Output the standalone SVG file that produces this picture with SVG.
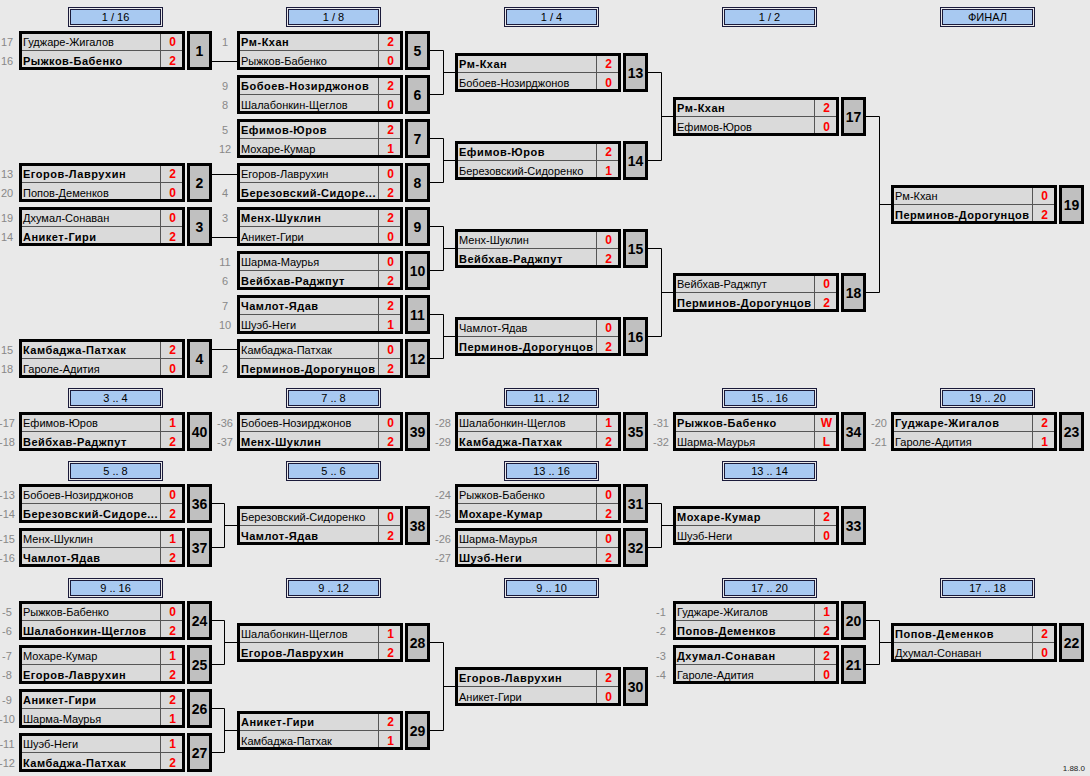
<svg xmlns="http://www.w3.org/2000/svg" width="1090" height="776" viewBox="0 0 1090 776">
<style>
text{font-family:"Liberation Sans",Arial,sans-serif;}
.bg{fill:#e9e9e9}
.box{fill:#dadada;stroke:#000;stroke-width:3}
.div{stroke:#555;stroke-width:1}
.num{fill:#c0c0c0;stroke:#000;stroke-width:3}
.nm{font-size:11px;fill:#000}
.b{font-weight:bold;letter-spacing:0.5px}
.sc{font-size:12px;font-weight:bold;fill:#f00;text-anchor:middle}
.nt{font-size:14px;font-weight:bold;fill:#000;text-anchor:middle}
.sd{font-size:11px;fill:#888;text-anchor:middle}
.ho{fill:#e9e9e9;stroke:#1a1a3a;stroke-width:1}
.hi{fill:#a8c9f1;stroke:#1a1a3a;stroke-width:1}
.ht{font-size:11px;fill:#000;text-anchor:middle}
.cn{fill:none;stroke:#000;stroke-width:1}
</style>
<defs>
<g id="frame">
<rect class="box" x="1.5" y="1.5" width="163" height="36"/>
<line class="div" x1="3" y1="19.5" x2="163" y2="19.5"/>
<line class="div" x1="141.5" y1="3" x2="141.5" y2="36"/>
<rect class="num" x="169.5" y="1.5" width="22" height="36"/>
</g>
<g id="hdr">
<rect class="ho" x="0.5" y="0.5" width="94" height="19"/>
<rect class="hi" x="2.5" y="2.5" width="90" height="15"/>
</g>
</defs>
<rect class="bg" x="0" y="0" width="1090" height="776"/>

<g id="headers">
<g id="h1"><use href="#hdr" x="68" y="7"/><text class="ht" x="115.5" y="21">1 / 16</text></g>
<g id="h2"><use href="#hdr" x="286" y="7"/><text class="ht" x="333.5" y="21">1 / 8</text></g>
<g id="h3"><use href="#hdr" x="504" y="7"/><text class="ht" x="551.5" y="21">1 / 4</text></g>
<g id="h4"><use href="#hdr" x="722" y="7"/><text class="ht" x="769.5" y="21">1 / 2</text></g>
<g id="h5"><use href="#hdr" x="940" y="7"/><text class="ht" x="987.5" y="21">ФИНАЛ</text></g>
<g id="h6"><use href="#hdr" x="68" y="388"/><text class="ht" x="115.5" y="402">3 .. 4</text></g>
<g id="h7"><use href="#hdr" x="286" y="388"/><text class="ht" x="333.5" y="402">7 .. 8</text></g>
<g id="h8"><use href="#hdr" x="504" y="388"/><text class="ht" x="551.5" y="402">11 .. 12</text></g>
<g id="h9"><use href="#hdr" x="722" y="388"/><text class="ht" x="769.5" y="402">15 .. 16</text></g>
<g id="h10"><use href="#hdr" x="940" y="388"/><text class="ht" x="987.5" y="402">19 .. 20</text></g>
<g id="h11"><use href="#hdr" x="68" y="461"/><text class="ht" x="115.5" y="475">5 .. 8</text></g>
<g id="h12"><use href="#hdr" x="286" y="461"/><text class="ht" x="333.5" y="475">5 .. 6</text></g>
<g id="h13"><use href="#hdr" x="504" y="461"/><text class="ht" x="551.5" y="475">13 .. 16</text></g>
<g id="h14"><use href="#hdr" x="722" y="461"/><text class="ht" x="769.5" y="475">13 .. 14</text></g>
<g id="h15"><use href="#hdr" x="68" y="578"/><text class="ht" x="115.5" y="592">9 .. 16</text></g>
<g id="h16"><use href="#hdr" x="286" y="578"/><text class="ht" x="333.5" y="592">9 .. 12</text></g>
<g id="h17"><use href="#hdr" x="504" y="578"/><text class="ht" x="551.5" y="592">9 .. 10</text></g>
<g id="h18"><use href="#hdr" x="722" y="578"/><text class="ht" x="769.5" y="592">17 .. 20</text></g>
<g id="h19"><use href="#hdr" x="940" y="578"/><text class="ht" x="987.5" y="592">17 .. 18</text></g>
</g>

<g id="connectors" class="cn">
<path d="M212,61.5H237M212,174.5H237M212,237.5H237M212,349.5H237"/>
<path d="M212,503.5H224.5V547.5H212M224.5,525.5H237"/>
<path d="M212,620.5H224.5V664.5H212M224.5,642.5H237"/>
<path d="M212,708.5H224.5V752.5H212M224.5,730.5H237"/>
<path d="M430,50.5H443.5V94.5H430M443.5,72.5H455"/>
<path d="M430,138.5H443.5V182.5H430M443.5,160.5H455"/>
<path d="M430,226.5H443.5V270.5H430M443.5,248.5H455"/>
<path d="M430,314.5H443.5V358.5H430M443.5,336.5H455"/>
<path d="M430,642.5H443.5V730.5H430M443.5,686.5H455"/>
<path d="M648,72.5H661.5V160.5H648M661.5,116.5H673"/>
<path d="M648,248.5H661.5V336.5H648M661.5,292.5H673"/>
<path d="M648,503.5H661.5V547.5H648M661.5,525.5H673"/>
<path d="M866,116.5H879.5V292.5H866M879.5,204.5H891"/>
<path d="M866,620.5H879.5V664.5H866M879.5,642.5H891"/>
</g>

<g id="m1" transform="translate(19,31)"><use href="#frame"/><text class="sd" x="-12" y="15">17</text><text class="sd" x="-12" y="34">16</text><text class="nm" x="4" y="15">Гуджаре-Жигалов</text><text class="nm b" x="4" y="34">Рыжков-Бабенко</text><text class="sc" x="153.5" y="15">0</text><text class="sc" x="153.5" y="34">2</text><text class="nt" x="180.5" y="25">1</text></g>
<g id="m2" transform="translate(19,163)"><use href="#frame"/><text class="sd" x="-12" y="15">13</text><text class="sd" x="-12" y="34">20</text><text class="nm b" x="4" y="15">Егоров-Лаврухин</text><text class="nm" x="4" y="34">Попов-Деменков</text><text class="sc" x="153.5" y="15">2</text><text class="sc" x="153.5" y="34">0</text><text class="nt" x="180.5" y="25">2</text></g>
<g id="m3" transform="translate(19,207)"><use href="#frame"/><text class="sd" x="-12" y="15">19</text><text class="sd" x="-12" y="34">14</text><text class="nm" x="4" y="15">Дхумал-Сонаван</text><text class="nm b" x="4" y="34">Аникет-Гири</text><text class="sc" x="153.5" y="15">0</text><text class="sc" x="153.5" y="34">2</text><text class="nt" x="180.5" y="25">3</text></g>
<g id="m4" transform="translate(19,339)"><use href="#frame"/><text class="sd" x="-12" y="15">15</text><text class="sd" x="-12" y="34">18</text><text class="nm b" x="4" y="15">Камбаджа-Патхак</text><text class="nm" x="4" y="34">Гароле-Адития</text><text class="sc" x="153.5" y="15">2</text><text class="sc" x="153.5" y="34">0</text><text class="nt" x="180.5" y="25">4</text></g>
<g id="m5" transform="translate(237,31)"><use href="#frame"/><text class="sd" x="-12" y="15">1</text><text class="nm b" x="4" y="15">Рм-Кхан</text><text class="nm" x="4" y="34">Рыжков-Бабенко</text><text class="sc" x="153.5" y="15">2</text><text class="sc" x="153.5" y="34">0</text><text class="nt" x="180.5" y="25">5</text></g>
<g id="m6" transform="translate(237,75)"><use href="#frame"/><text class="sd" x="-12" y="15">9</text><text class="sd" x="-12" y="34">8</text><text class="nm b" x="4" y="15">Бобоев-Нозирджонов</text><text class="nm" x="4" y="34">Шалабонкин-Щеглов</text><text class="sc" x="153.5" y="15">2</text><text class="sc" x="153.5" y="34">0</text><text class="nt" x="180.5" y="25">6</text></g>
<g id="m7" transform="translate(237,119)"><use href="#frame"/><text class="sd" x="-12" y="15">5</text><text class="sd" x="-12" y="34">12</text><text class="nm b" x="4" y="15">Ефимов-Юров</text><text class="nm" x="4" y="34">Мохаре-Кумар</text><text class="sc" x="153.5" y="15">2</text><text class="sc" x="153.5" y="34">1</text><text class="nt" x="180.5" y="25">7</text></g>
<g id="m8" transform="translate(237,163)"><use href="#frame"/><text class="sd" x="-12" y="34">4</text><text class="nm" x="4" y="15">Егоров-Лаврухин</text><text class="nm b" x="4" y="34">Березовский-Сидоре...</text><text class="sc" x="153.5" y="15">0</text><text class="sc" x="153.5" y="34">2</text><text class="nt" x="180.5" y="25">8</text></g>
<g id="m9" transform="translate(237,207)"><use href="#frame"/><text class="sd" x="-12" y="15">3</text><text class="nm b" x="4" y="15">Менх-Шуклин</text><text class="nm" x="4" y="34">Аникет-Гири</text><text class="sc" x="153.5" y="15">2</text><text class="sc" x="153.5" y="34">0</text><text class="nt" x="180.5" y="25">9</text></g>
<g id="m10" transform="translate(237,251)"><use href="#frame"/><text class="sd" x="-12" y="15">11</text><text class="sd" x="-12" y="34">6</text><text class="nm" x="4" y="15">Шарма-Маурья</text><text class="nm b" x="4" y="34">Вейбхав-Раджпут</text><text class="sc" x="153.5" y="15">0</text><text class="sc" x="153.5" y="34">2</text><text class="nt" x="180.5" y="25">10</text></g>
<g id="m11" transform="translate(237,295)"><use href="#frame"/><text class="sd" x="-12" y="15">7</text><text class="sd" x="-12" y="34">10</text><text class="nm b" x="4" y="15">Чамлот-Ядав</text><text class="nm" x="4" y="34">Шуэб-Неги</text><text class="sc" x="153.5" y="15">2</text><text class="sc" x="153.5" y="34">1</text><text class="nt" x="180.5" y="25">11</text></g>
<g id="m12" transform="translate(237,339)"><use href="#frame"/><text class="sd" x="-12" y="34">2</text><text class="nm" x="4" y="15">Камбаджа-Патхак</text><text class="nm b" x="4" y="34">Перминов-Дорогунцов</text><text class="sc" x="153.5" y="15">0</text><text class="sc" x="153.5" y="34">2</text><text class="nt" x="180.5" y="25">12</text></g>
<g id="m13" transform="translate(455,53)"><use href="#frame"/><text class="nm b" x="4" y="15">Рм-Кхан</text><text class="nm" x="4" y="34">Бобоев-Нозирджонов</text><text class="sc" x="153.5" y="15">2</text><text class="sc" x="153.5" y="34">0</text><text class="nt" x="180.5" y="25">13</text></g>
<g id="m14" transform="translate(455,141)"><use href="#frame"/><text class="nm b" x="4" y="15">Ефимов-Юров</text><text class="nm" x="4" y="34">Березовский-Сидоренко</text><text class="sc" x="153.5" y="15">2</text><text class="sc" x="153.5" y="34">1</text><text class="nt" x="180.5" y="25">14</text></g>
<g id="m15" transform="translate(455,229)"><use href="#frame"/><text class="nm" x="4" y="15">Менх-Шуклин</text><text class="nm b" x="4" y="34">Вейбхав-Раджпут</text><text class="sc" x="153.5" y="15">0</text><text class="sc" x="153.5" y="34">2</text><text class="nt" x="180.5" y="25">15</text></g>
<g id="m16" transform="translate(455,317)"><use href="#frame"/><text class="nm" x="4" y="15">Чамлот-Ядав</text><text class="nm b" x="4" y="34">Перминов-Дорогунцов</text><text class="sc" x="153.5" y="15">0</text><text class="sc" x="153.5" y="34">2</text><text class="nt" x="180.5" y="25">16</text></g>
<g id="m17" transform="translate(673,97)"><use href="#frame"/><text class="nm b" x="4" y="15">Рм-Кхан</text><text class="nm" x="4" y="34">Ефимов-Юров</text><text class="sc" x="153.5" y="15">2</text><text class="sc" x="153.5" y="34">0</text><text class="nt" x="180.5" y="25">17</text></g>
<g id="m18" transform="translate(673,273)"><use href="#frame"/><text class="nm" x="4" y="15">Вейбхав-Раджпут</text><text class="nm b" x="4" y="34">Перминов-Дорогунцов</text><text class="sc" x="153.5" y="15">0</text><text class="sc" x="153.5" y="34">2</text><text class="nt" x="180.5" y="25">18</text></g>
<g id="m19" transform="translate(891,185)"><use href="#frame"/><text class="nm" x="4" y="15">Рм-Кхан</text><text class="nm b" x="4" y="34">Перминов-Дорогунцов</text><text class="sc" x="153.5" y="15">0</text><text class="sc" x="153.5" y="34">2</text><text class="nt" x="180.5" y="25">19</text></g>

<g id="m40" transform="translate(19,412)"><use href="#frame"/><text class="sd" x="-12" y="15">-17</text><text class="sd" x="-12" y="34">-18</text><text class="nm" x="4" y="15">Ефимов-Юров</text><text class="nm b" x="4" y="34">Вейбхав-Раджпут</text><text class="sc" x="153.5" y="15">1</text><text class="sc" x="153.5" y="34">2</text><text class="nt" x="180.5" y="25">40</text></g>
<g id="m39" transform="translate(237,412)"><use href="#frame"/><text class="sd" x="-12" y="15">-36</text><text class="sd" x="-12" y="34">-37</text><text class="nm" x="4" y="15">Бобоев-Нозирджонов</text><text class="nm b" x="4" y="34">Менх-Шуклин</text><text class="sc" x="153.5" y="15">0</text><text class="sc" x="153.5" y="34">2</text><text class="nt" x="180.5" y="25">39</text></g>
<g id="m35" transform="translate(455,412)"><use href="#frame"/><text class="sd" x="-12" y="15">-28</text><text class="sd" x="-12" y="34">-29</text><text class="nm" x="4" y="15">Шалабонкин-Щеглов</text><text class="nm b" x="4" y="34">Камбаджа-Патхак</text><text class="sc" x="153.5" y="15">1</text><text class="sc" x="153.5" y="34">2</text><text class="nt" x="180.5" y="25">35</text></g>
<g id="m34" transform="translate(673,412)"><use href="#frame"/><text class="sd" x="-12" y="15">-31</text><text class="sd" x="-12" y="34">-32</text><text class="nm b" x="4" y="15">Рыжков-Бабенко</text><text class="nm" x="4" y="34">Шарма-Маурья</text><text class="sc" x="153.5" y="15">W</text><text class="sc" x="153.5" y="34">L</text><text class="nt" x="180.5" y="25">34</text></g>
<g id="m23" transform="translate(891,412)"><use href="#frame"/><text class="sd" x="-12" y="15">-20</text><text class="sd" x="-12" y="34">-21</text><text class="nm b" x="4" y="15">Гуджаре-Жигалов</text><text class="nm" x="4" y="34">Гароле-Адития</text><text class="sc" x="153.5" y="15">2</text><text class="sc" x="153.5" y="34">1</text><text class="nt" x="180.5" y="25">23</text></g>
<g id="m36" transform="translate(19,484)"><use href="#frame"/><text class="sd" x="-12" y="15">-13</text><text class="sd" x="-12" y="34">-14</text><text class="nm" x="4" y="15">Бобоев-Нозирджонов</text><text class="nm b" x="4" y="34">Березовский-Сидоре...</text><text class="sc" x="153.5" y="15">0</text><text class="sc" x="153.5" y="34">2</text><text class="nt" x="180.5" y="25">36</text></g>
<g id="m37" transform="translate(19,528)"><use href="#frame"/><text class="sd" x="-12" y="15">-15</text><text class="sd" x="-12" y="34">-16</text><text class="nm" x="4" y="15">Менх-Шуклин</text><text class="nm b" x="4" y="34">Чамлот-Ядав</text><text class="sc" x="153.5" y="15">1</text><text class="sc" x="153.5" y="34">2</text><text class="nt" x="180.5" y="25">37</text></g>
<g id="m38" transform="translate(237,506)"><use href="#frame"/><text class="nm" x="4" y="15">Березовский-Сидоренко</text><text class="nm b" x="4" y="34">Чамлот-Ядав</text><text class="sc" x="153.5" y="15">0</text><text class="sc" x="153.5" y="34">2</text><text class="nt" x="180.5" y="25">38</text></g>
<g id="m31" transform="translate(455,484)"><use href="#frame"/><text class="sd" x="-12" y="15">-24</text><text class="sd" x="-12" y="34">-25</text><text class="nm" x="4" y="15">Рыжков-Бабенко</text><text class="nm b" x="4" y="34">Мохаре-Кумар</text><text class="sc" x="153.5" y="15">0</text><text class="sc" x="153.5" y="34">2</text><text class="nt" x="180.5" y="25">31</text></g>
<g id="m32" transform="translate(455,528)"><use href="#frame"/><text class="sd" x="-12" y="15">-26</text><text class="sd" x="-12" y="34">-27</text><text class="nm" x="4" y="15">Шарма-Маурья</text><text class="nm b" x="4" y="34">Шуэб-Неги</text><text class="sc" x="153.5" y="15">0</text><text class="sc" x="153.5" y="34">2</text><text class="nt" x="180.5" y="25">32</text></g>
<g id="m33" transform="translate(673,506)"><use href="#frame"/><text class="nm b" x="4" y="15">Мохаре-Кумар</text><text class="nm" x="4" y="34">Шуэб-Неги</text><text class="sc" x="153.5" y="15">2</text><text class="sc" x="153.5" y="34">0</text><text class="nt" x="180.5" y="25">33</text></g>

<g id="m24" transform="translate(19,601)"><use href="#frame"/><text class="sd" x="-12" y="15">-5</text><text class="sd" x="-12" y="34">-6</text><text class="nm" x="4" y="15">Рыжков-Бабенко</text><text class="nm b" x="4" y="34">Шалабонкин-Щеглов</text><text class="sc" x="153.5" y="15">0</text><text class="sc" x="153.5" y="34">2</text><text class="nt" x="180.5" y="25">24</text></g>
<g id="m25" transform="translate(19,645)"><use href="#frame"/><text class="sd" x="-12" y="15">-7</text><text class="sd" x="-12" y="34">-8</text><text class="nm" x="4" y="15">Мохаре-Кумар</text><text class="nm b" x="4" y="34">Егоров-Лаврухин</text><text class="sc" x="153.5" y="15">1</text><text class="sc" x="153.5" y="34">2</text><text class="nt" x="180.5" y="25">25</text></g>
<g id="m26" transform="translate(19,689)"><use href="#frame"/><text class="sd" x="-12" y="15">-9</text><text class="sd" x="-12" y="34">-10</text><text class="nm b" x="4" y="15">Аникет-Гири</text><text class="nm" x="4" y="34">Шарма-Маурья</text><text class="sc" x="153.5" y="15">2</text><text class="sc" x="153.5" y="34">1</text><text class="nt" x="180.5" y="25">26</text></g>
<g id="m27" transform="translate(19,733)"><use href="#frame"/><text class="sd" x="-12" y="15">-11</text><text class="sd" x="-12" y="34">-12</text><text class="nm" x="4" y="15">Шуэб-Неги</text><text class="nm b" x="4" y="34">Камбаджа-Патхак</text><text class="sc" x="153.5" y="15">1</text><text class="sc" x="153.5" y="34">2</text><text class="nt" x="180.5" y="25">27</text></g>
<g id="m28" transform="translate(237,623)"><use href="#frame"/><text class="nm" x="4" y="15">Шалабонкин-Щеглов</text><text class="nm b" x="4" y="34">Егоров-Лаврухин</text><text class="sc" x="153.5" y="15">1</text><text class="sc" x="153.5" y="34">2</text><text class="nt" x="180.5" y="25">28</text></g>
<g id="m29" transform="translate(237,711)"><use href="#frame"/><text class="nm b" x="4" y="15">Аникет-Гири</text><text class="nm" x="4" y="34">Камбаджа-Патхак</text><text class="sc" x="153.5" y="15">2</text><text class="sc" x="153.5" y="34">1</text><text class="nt" x="180.5" y="25">29</text></g>
<g id="m30" transform="translate(455,667)"><use href="#frame"/><text class="nm b" x="4" y="15">Егоров-Лаврухин</text><text class="nm" x="4" y="34">Аникет-Гири</text><text class="sc" x="153.5" y="15">2</text><text class="sc" x="153.5" y="34">0</text><text class="nt" x="180.5" y="25">30</text></g>
<g id="m20" transform="translate(673,601)"><use href="#frame"/><text class="sd" x="-12" y="15">-1</text><text class="sd" x="-12" y="34">-2</text><text class="nm" x="4" y="15">Гуджаре-Жигалов</text><text class="nm b" x="4" y="34">Попов-Деменков</text><text class="sc" x="153.5" y="15">1</text><text class="sc" x="153.5" y="34">2</text><text class="nt" x="180.5" y="25">20</text></g>
<g id="m21" transform="translate(673,645)"><use href="#frame"/><text class="sd" x="-12" y="15">-3</text><text class="sd" x="-12" y="34">-4</text><text class="nm b" x="4" y="15">Дхумал-Сонаван</text><text class="nm" x="4" y="34">Гароле-Адития</text><text class="sc" x="153.5" y="15">2</text><text class="sc" x="153.5" y="34">0</text><text class="nt" x="180.5" y="25">21</text></g>
<g id="m22" transform="translate(891,623)"><use href="#frame"/><text class="nm b" x="4" y="15">Попов-Деменков</text><text class="nm" x="4" y="34">Дхумал-Сонаван</text><text class="sc" x="153.5" y="15">2</text><text class="sc" x="153.5" y="34">0</text><text class="nt" x="180.5" y="25">22</text></g>

<text x="1085" y="771" style="font-size:8px;fill:#222;text-anchor:end">1.88.0</text>
</svg>
